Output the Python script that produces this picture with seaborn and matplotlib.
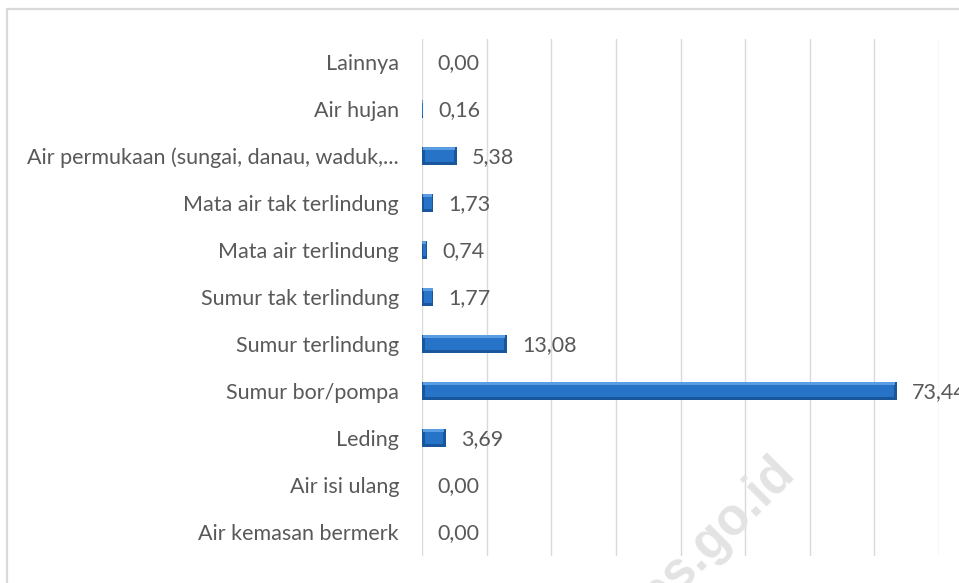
import matplotlib
matplotlib.use("Agg")
import matplotlib.pyplot as plt
import seaborn as sns
import pandas as pd
import numpy as np
from matplotlib.patches import Rectangle

# data (top to bottom as shown)
categories = ['Lainnya', 'Air hujan', 'Air permukaan (sungai, danau, waduk,...',
              'Mata air tak terlindung', 'Mata air terlindung', 'Sumur tak terlindung',
              'Sumur terlindung', 'Sumur bor/pompa', 'Leding', 'Air isi ulang',
              'Air kemasan bermerk']
values = [0.00, 0.16, 5.38, 1.73, 0.74, 1.77, 13.08, 73.44, 3.69, 0.00, 0.00]
x_ticks = [0, 10, 20, 30, 40, 50, 60, 70, 80]

df = pd.DataFrame({'sumber': categories, 'persen': values})

sns.set_style('white')
plt.rcParams['font.family'] = ['Lato', 'DejaVu Sans']

fig = plt.figure(figsize=(9.59, 5.83), dpi=100)
ax = fig.add_axes([422 / 959, 1 - 555.5 / 583, (939 - 422) / 959, (555.5 - 38.5) / 583])

# outer chart frame (Excel style)
fig.patches.append(Rectangle((7 / 959, -0.2), 1.2, 1.2 - 9 / 583, transform=fig.transFigure,
                             fill=False, edgecolor='#D9D9D9', linewidth=1.6, zorder=0))

# watermark
fig.text(0.736, 0.066, 'bps.go.id', rotation=45, fontsize=37, fontweight='bold',
         family='Liberation Sans', color='#E3E3E3', ha='center', va='center', zorder=0)

# base bars (dark bevel edge)
sns.barplot(data=df, x='persen', y='sumber', orient='h', color='#1A569C',
            saturation=1, width=0.37, linewidth=0, ax=ax, zorder=3)

# bevel: inner face + top highlight
v = df['persen'].to_numpy()
inset = np.minimum(0.45, v * 0.15)
pos = np.arange(len(v))
ax.barh(pos, v - 2 * inset, left=inset, height=0.25, color='#2673C8', linewidth=0, zorder=4)
ax.barh(pos - 0.185, v - inset, left=inset / 2, height=0.06, align='edge',
        color='#5B9DE2', linewidth=0, zorder=5)

for i, val in enumerate(v):
    ax.annotate(f'{val:.2f}'.replace('.', ','), xy=(val, i), xytext=(11, -1),
                textcoords='offset points', va='center', ha='left',
                fontsize=15.5, color='#595959', annotation_clip=False)

ax.set_xlim(0, 80)
ax.set_ylim(10.5, -0.5)
ax.set_xticks(x_ticks)
ax.set_xticklabels([])
ax.grid(axis='x', color='#D9D9D9', linewidth=1)
ax.set_axisbelow(True)
for s in ax.spines.values():
    s.set_visible(False)
ax.tick_params(axis='y', length=0, pad=16.5, labelsize=15.5, labelcolor='#595959')
ax.tick_params(axis='x', length=0)
ax.set_xlabel('')
ax.set_ylabel('')

fig.savefig('out.png', dpi=100)
